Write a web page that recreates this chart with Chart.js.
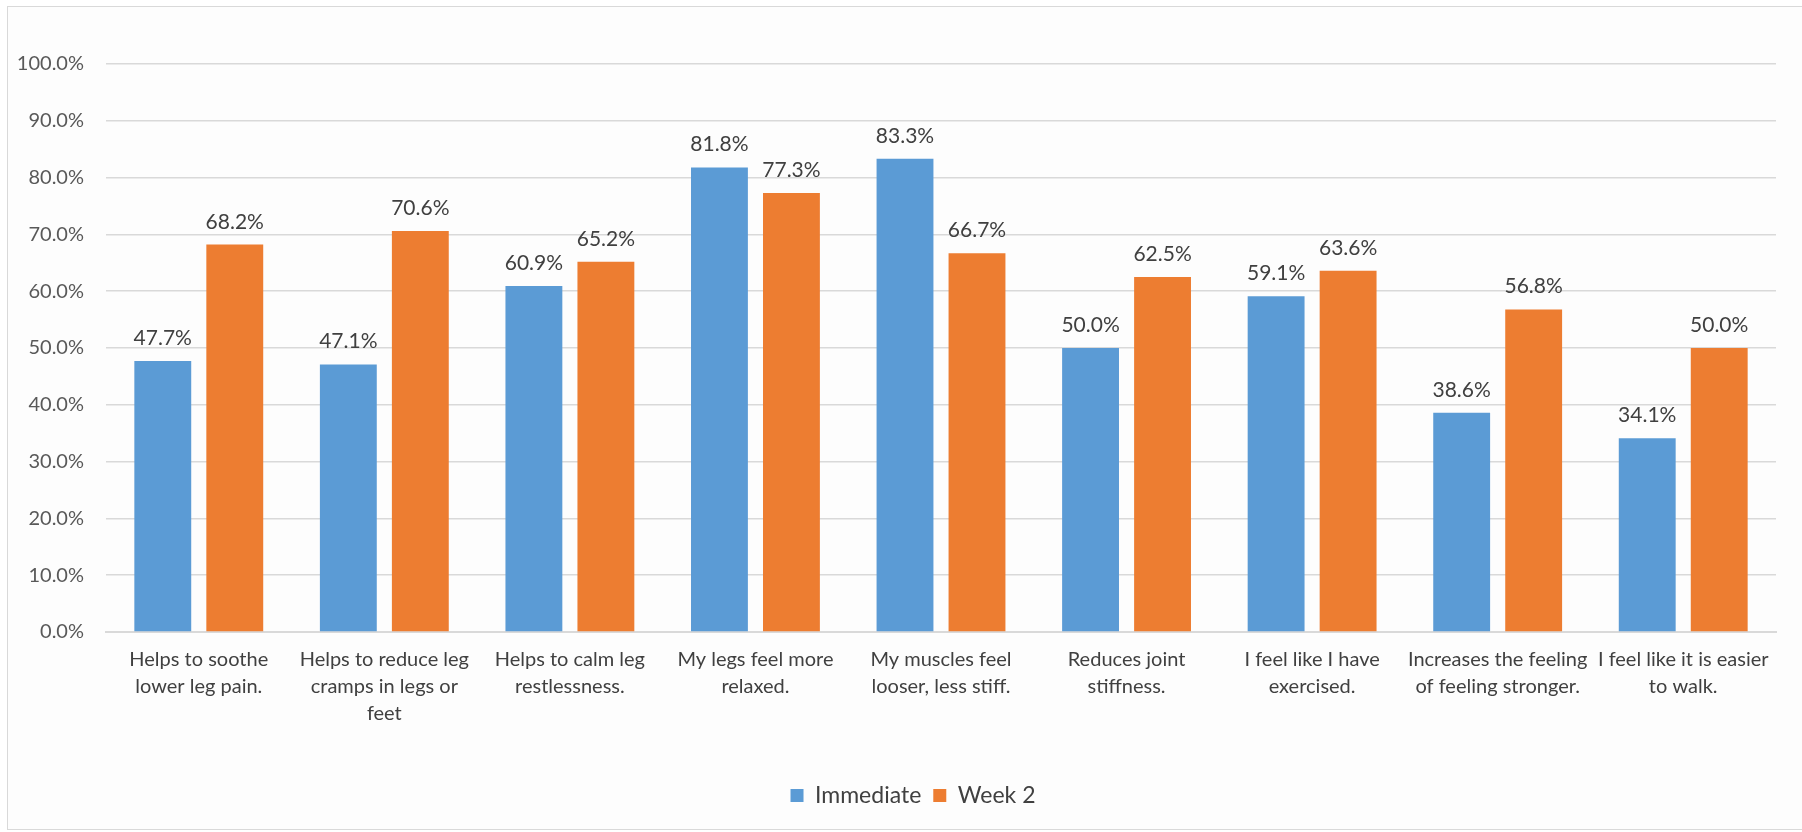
<!DOCTYPE html>
<html>
<head>
<meta charset="utf-8">
<script src="https://cdn.jsdelivr.net/npm/chart.js"></script>
<style>
  html, body { margin: 0; padding: 0; background: #ffffff; }
  body { width: 1802px; height: 832px; position: relative; overflow: hidden; }
  #frame {
    position: absolute; left: 7px; top: 6px; width: 1820px; height: 824px;
    border: 1.5px solid #d9d9d9; box-sizing: border-box; background: #fdfdfd;
  }
  #wrap { position: absolute; left: 0; top: 0; width: 1802px; height: 832px; }
</style>
</head>
<body>
<div id="frame"></div>
<div id="wrap"><canvas id="chart" width="1802" height="832"></canvas></div>
<script>
// Categories (multi-line, split as in the original)
const categories = [
    ['Helps to soothe', 'lower leg pain.'],
    ['Helps to reduce leg', 'cramps in legs or', 'feet'],
    ['Helps to calm leg', 'restlessness.'],
    ['My legs feel more', 'relaxed.'],
    ['My muscles feel', 'looser, less stiff.'],
    ['Reduces joint', 'stiffness.'],
    ['I feel like I have', 'exercised.'],
    ['Increases the feeling', 'of feeling stronger.'],
    ['I feel like it is easier', 'to walk.']
];

const immediateValues = [47.7, 47.1, 60.9, 81.8, 83.3, 50.0, 59.1, 38.6, 34.1];
const week2Values = [68.2, 70.6, 65.2, 77.3, 66.7, 62.5, 63.6, 56.8, 50.0];

const yTicks = [0, 10, 20, 30, 40, 50, 60, 70, 80, 90, 100];

const FONT = 'Lato';

// Value labels above each bar
const valueLabels = {
    id: 'valueLabels',
    afterDatasetsDraw(chart) {
        const ctx = chart.ctx;
        ctx.save();
        ctx.font = '21px ' + FONT;
        ctx.fillStyle = '#404040';
        ctx.textAlign = 'center';
        ctx.textBaseline = 'alphabetic';
        chart.data.datasets.forEach((ds, i) => {
            const meta = chart.getDatasetMeta(i);
            meta.data.forEach((bar, j) => {
                ctx.fillText(ds.data[j].toFixed(1) + '%', bar.x, bar.y - 16);
            });
        });
        ctx.restore();
    }
};

// nudge the centred legend a little to the right, like the original
const legendShift = {
    id: 'legendShift',
    afterLayout(chart) {
        if (chart.legend) chart.legend.left += 50;
    }
};

const ctx = document.getElementById('chart').getContext('2d');
new Chart(ctx, {
    type: 'bar',
    data: {
        labels: categories,
        datasets: [
            {
                label: 'Immediate',
                data: immediateValues,
                backgroundColor: '#5B9BD5',
                categoryPercentage: 0.776,
                barPercentage: 0.79
            },
            {
                label: 'Week 2',
                data: week2Values,
                backgroundColor: '#ED7D31',
                categoryPercentage: 0.776,
                barPercentage: 0.79
            }
        ]
    },
    options: {
        responsive: false,
        animation: false,
        layout: {
            padding: { top: 64, right: 26, bottom: 15, left: 0 }
        },
        scales: {
            x: {
                grid: { display: false, drawTicks: false },
                border: { color: '#d9d9d9', width: 2 },
                ticks: {
                    color: '#404040',
                    font: { family: FONT, size: 20, lineHeight: 1.35 },
                    padding: 14,
                    maxRotation: 0,
                    autoSkip: false
                },
                afterFit(scale) { scale.height = 140; }
            },
            y: {
                min: 0,
                max: 100,
                afterBuildTicks(scale) {
                    scale.ticks = yTicks.map(v => ({ value: v }));
                },
                grid: { color: '#d9d9d9', lineWidth: 1.5, drawTicks: false },
                border: { display: false },
                ticks: {
                    color: '#595959',
                    font: { family: FONT, size: 20 },
                    padding: 22,
                    callback: v => v.toFixed(1) + '%'
                },
                afterFit(scale) { scale.width = 106; }
            }
        },
        plugins: {
            legend: {
                position: 'bottom',
                labels: {
                    color: '#404040',
                    font: { family: FONT, size: 23 },
                    boxWidth: 13,
                    boxHeight: 13,
                    padding: 12
                }
            },
            tooltip: { enabled: false }
        }
    },
    plugins: [valueLabels, legendShift]
});
</script>
</body>
</html>
